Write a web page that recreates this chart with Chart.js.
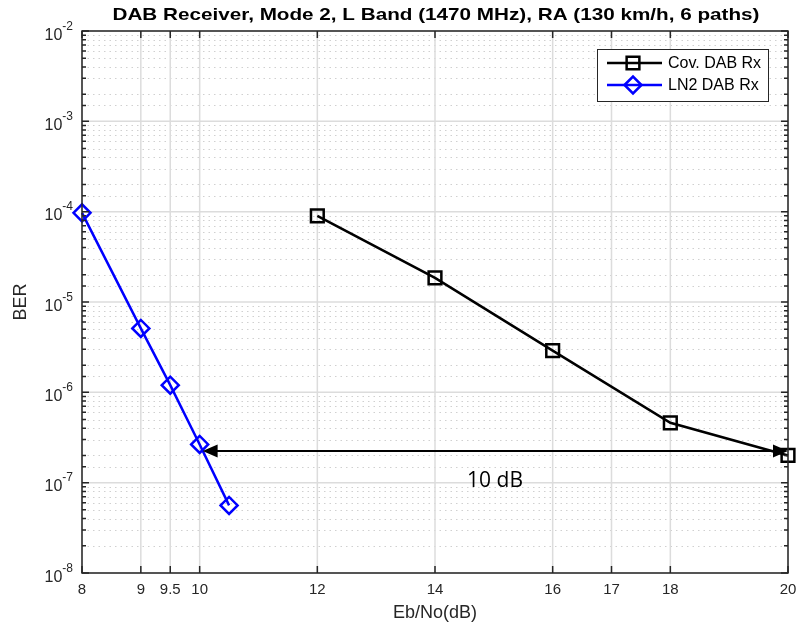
<!DOCTYPE html>
<html lang="en">
<head>
  <meta charset="UTF-8" />
  <title>DAB Receiver BER</title>
  <script src="https://cdn.jsdelivr.net/npm/chart.js"></script>
  <style>
    body { margin: 0; padding: 0; background: #fff; }
    .wrap { width: 796px; height: 627px; }
  </style>
</head>
<body>
  <div class="wrap">
    <canvas id="chart" width="796" height="627"></canvas>
  </div>

  <script>
    // values
    const covX = [12, 14, 16, 18, 20];
    const covBer = [9.0e-5, 1.85e-5, 2.9e-6, 4.6e-7, 2.0e-7];
    const ln2X = [8, 9, 9.5, 10, 10.5];
    const ln2Ber = [9.7e-5, 5.1e-6, 1.2e-6, 2.65e-7, 5.6e-8];
    const xTicks = [8, 9, 9.5, 10, 12, 14, 16, 17, 18, 20];
    const seriesNames = ['Cov. DAB Rx', 'LN2 DAB Rx'];

    // "10 dB" gap annotation
    const gapFrom = 10.05, gapTo = 20, gapBer = 2.24e-7;
    const gapLabel = '10 dB', gapLabelX = 15.02, gapLabelBer = 1.03e-7;

    const titleText = 'DAB Receiver, Mode 2, L Band (1470 MHz), RA (130 km/h, 6 paths)';
    const FONT = '"Liberation Sans", Arial, sans-serif';
    const AXIS = '#262626';

    const isDecade = v => Math.abs(Math.log10(v) - Math.round(Math.log10(v))) < 1e-9;

    const gridPlugin = {
      id: 'matlabGrid',
      beforeDatasetsDraw(chart) {
        const { ctx, chartArea: a, scales: { x, y } } = chart;
        ctx.save();
        // minor dotted lines
        ctx.strokeStyle = '#d0d0d0';
        ctx.lineWidth = 1;
        ctx.setLineDash([1.5, 4]);
        y.ticks.forEach(t => {
          if (isDecade(t.value)) return;
          const py = Math.round(y.getPixelForValue(t.value)) + 0.5;
          ctx.beginPath(); ctx.moveTo(a.left, py); ctx.lineTo(a.right, py); ctx.stroke();
        });
        // major solid lines
        ctx.setLineDash([]);
        ctx.strokeStyle = '#dcdcdc';
        ctx.lineWidth = 1.5;
        y.ticks.forEach(t => {
          if (!isDecade(t.value)) return;
          const py = y.getPixelForValue(t.value);
          ctx.beginPath(); ctx.moveTo(a.left, py); ctx.lineTo(a.right, py); ctx.stroke();
        });
        x.ticks.forEach(t => {
          const px = x.getPixelForValue(t.value);
          ctx.beginPath(); ctx.moveTo(px, a.top); ctx.lineTo(px, a.bottom); ctx.stroke();
        });
        ctx.restore();
      },
      afterDatasetsDraw(chart) {
        const { ctx, chartArea: a, scales: { x, y } } = chart;
        ctx.save();

        // gap arrow
        const ay = y.getPixelForValue(gapBer);
        const ax1 = x.getPixelForValue(gapFrom);
        const ax2 = x.getPixelForValue(gapTo);
        ctx.strokeStyle = '#000';
        ctx.fillStyle = '#000';
        ctx.lineWidth = 2;
        ctx.beginPath(); ctx.moveTo(ax1 + 10, ay); ctx.lineTo(ax2 - 10, ay); ctx.stroke();
        ctx.beginPath(); ctx.moveTo(ax1, ay); ctx.lineTo(ax1 + 15, ay - 6.5); ctx.lineTo(ax1 + 15, ay + 6.5); ctx.closePath(); ctx.fill();
        ctx.beginPath(); ctx.moveTo(ax2, ay); ctx.lineTo(ax2 - 15, ay - 6.5); ctx.lineTo(ax2 - 15, ay + 6.5); ctx.closePath(); ctx.fill();

        ctx.font = '21px "Open Sans", sans-serif';
        ctx.textAlign = 'center';
        ctx.textBaseline = 'middle';
        ctx.fillText(gapLabel, x.getPixelForValue(gapLabelX), y.getPixelForValue(gapLabelBer));

        // axes frame
        ctx.strokeStyle = AXIS;
        ctx.lineWidth = 1.5;
        ctx.strokeRect(a.left, a.top, a.right - a.left, a.bottom - a.top);

        // tick marks (inside, all four sides)
        x.ticks.forEach(t => {
          const px = x.getPixelForValue(t.value);
          ctx.beginPath();
          ctx.moveTo(px, a.bottom); ctx.lineTo(px, a.bottom - 7);
          ctx.moveTo(px, a.top); ctx.lineTo(px, a.top + 7);
          ctx.stroke();
        });
        y.ticks.forEach(t => {
          const py = y.getPixelForValue(t.value);
          const len = isDecade(t.value) ? 7 : 4;
          ctx.beginPath();
          ctx.moveTo(a.left, py); ctx.lineTo(a.left + len, py);
          ctx.moveTo(a.right, py); ctx.lineTo(a.right - len, py);
          ctx.stroke();
        });

        // y tick labels as 10^n
        ctx.fillStyle = AXIS;
        y.ticks.forEach(t => {
          if (!isDecade(t.value)) return;
          const py = y.getPixelForValue(t.value);
          const exp = String(Math.round(Math.log10(t.value)));
          ctx.font = '12px ' + FONT;
          const ew = ctx.measureText(exp).width;
          const right = a.left - 9;
          ctx.textAlign = 'right';
          ctx.textBaseline = 'alphabetic';
          ctx.fillText(exp, right, py - 1.5);
          ctx.font = '16px ' + FONT;
          ctx.fillText('10', right - ew, py + 8.5);
        });

        // title, stretched to the reference width
        ctx.fillStyle = '#000';
        ctx.font = 'bold 17px ' + FONT;
        ctx.textAlign = 'center';
        ctx.textBaseline = 'middle';
        const tw = ctx.measureText(titleText).width;
        ctx.save();
        ctx.translate((a.left + a.right) / 2 + 1, 15);
        ctx.scale(647 / tw, 1);
        ctx.fillText(titleText, 0, 0);
        ctx.restore();

        // legend
        const lx = 597, ly = 49, lw = 171, lh = 52;
        ctx.fillStyle = '#fff';
        ctx.fillRect(lx, ly, lw, lh);
        ctx.strokeStyle = AXIS;
        ctx.lineWidth = 1;
        ctx.strokeRect(lx + 0.5, ly + 0.5, lw, lh);
        chart.data.datasets.forEach((ds, i) => {
          const ey = ly + 14 + i * 22;
          ctx.strokeStyle = ds.borderColor;
          ctx.lineWidth = ds.borderWidth;
          ctx.beginPath(); ctx.moveTo(lx + 10, ey); ctx.lineTo(lx + 65, ey); ctx.stroke();
          ctx.fillStyle = 'rgba(0,0,0,0)';
          ctx.strokeStyle = ds.pointBorderColor;
          ctx.lineWidth = ds.pointBorderWidth;
          Chart.helpers.drawPoint(ctx, {
            pointStyle: ds.pointStyle, radius: ds.pointRadius, rotation: 0,
            borderWidth: ds.pointBorderWidth
          }, lx + 36, ey);
          ctx.fillStyle = '#000';
          ctx.font = '16px ' + FONT;
          ctx.textAlign = 'left';
          ctx.textBaseline = 'middle';
          ctx.fillText(ds.label, lx + 71, ey + 1);
        });

        ctx.restore();
      }
    };

    const ctx = document.getElementById('chart').getContext('2d');
    new Chart(ctx, {
      type: 'line',
      data: {
        datasets: [
          {
            label: seriesNames[0],
            data: covX.map((v, i) => ({ x: v, y: covBer[i] })),
            borderColor: '#000000',
            borderWidth: 2.5,
            pointStyle: 'rect',
            pointRadius: 9,
            pointBorderWidth: 2.5,
            pointBackgroundColor: 'rgba(0,0,0,0)',
            pointBorderColor: '#000000',
            fill: false,
            tension: 0,
            clip: false
          },
          {
            label: seriesNames[1],
            data: ln2X.map((v, i) => ({ x: v, y: ln2Ber[i] })),
            borderColor: '#0000ff',
            borderWidth: 2.5,
            pointStyle: 'rectRot',
            pointRadius: 8.5,
            pointBorderWidth: 2.5,
            pointBackgroundColor: 'rgba(0,0,0,0)',
            pointBorderColor: '#0000ff',
            fill: false,
            tension: 0,
            clip: false
          }
        ]
      },
      options: {
        responsive: false,
        animation: false,
        layout: { autoPadding: false, padding: { top: 31, right: 8, left: 0, bottom: 0 } },
        plugins: {
          legend: { display: false },
          title: { display: false },
          tooltip: { enabled: false }
        },
        scales: {
          x: {
            type: 'linear',
            min: 8,
            max: 20,
            afterBuildTicks: s => { s.ticks = xTicks.map(v => ({ value: v })); },
            afterFit: s => { s.height = 54; s.paddingLeft = 0; s.paddingRight = 0; },
            grid: { display: false, drawTicks: false },
            border: { display: false },
            ticks: {
              color: AXIS,
              font: { family: FONT, size: 15 },
              padding: 8,
              maxRotation: 0,
              autoSkip: false,
              callback: v => String(v)
            },
            title: {
              display: true,
              text: 'Eb/No(dB)',
              color: AXIS,
              font: { family: FONT, size: 18 },
              padding: { top: 3, bottom: 3 }
            }
          },
          y: {
            type: 'logarithmic',
            min: 1e-8,
            max: 1e-2,
            afterFit: s => { s.width = 82; },
            grid: { display: false, drawTicks: false },
            border: { display: false },
            ticks: { display: false },
            title: {
              display: true,
              text: 'BER',
              color: AXIS,
              font: { family: FONT, size: 18 },
              padding: { top: 10, bottom: 0 }
            }
          }
        }
      },
      plugins: [gridPlugin]
    });
  </script>
</body>
</html>
